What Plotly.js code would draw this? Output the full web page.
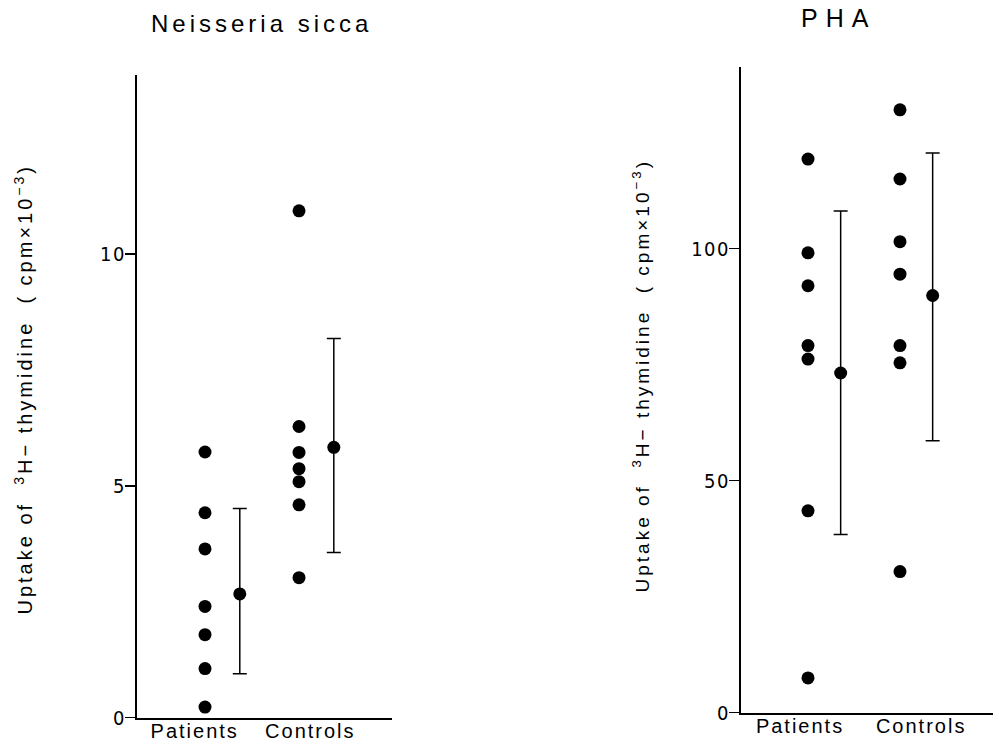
<!DOCTYPE html>
<html>
<head>
<meta charset="utf-8">
<script src="https://cdn.plot.ly/plotly-3.0.1.min.js"></script>
<style>
  html, body { margin: 0; padding: 0; background: #fff; }
  #chart { width: 996px; height: 743px; }
  g.annotation[data-index="0"] text { letter-spacing: 4px; }
  g.annotation[data-index="1"] text { letter-spacing: 8px; }
  g.annotation[data-index="2"] text { letter-spacing: 3px; }
  g.annotation[data-index="3"] text { letter-spacing: 3px; }
  .xtick text, .x2tick text { letter-spacing: 2px; }
  .ytick text, .y2tick text { letter-spacing: 1.5px; font-stretch: condensed; }
</style>
</head>
<body>
<div id="chart"></div>
<script>
// ---- data ----
const groups = ['Patients', 'Controls'];

const nsTitle = 'Neisseria sicca';
const nsPatients = [5.73, 4.42, 3.64, 2.40, 1.79, 1.06, 0.23];
const nsControls = [10.93, 6.28, 5.72, 5.37, 5.09, 4.59, 3.02];
const nsMean = [2.67, 5.83];
const nsSdPlus = [1.84, 2.35];
const nsSdMinus = [1.72, 2.27];
const nsTicks = [0, 5, 10];

const phaTitle = 'PHA';
const phaPatients = [119.3, 99.1, 92.0, 79.1, 76.2, 43.5, 7.5];
const phaControls = [129.9, 115.0, 101.5, 94.5, 79.1, 75.4, 30.4];
const phaMean = [73.2, 89.9];
const phaSdPlus = [34.9, 30.7];
const phaSdMinus = [34.8, 31.3];
const phaTicks = [0, 50, 100];

const yTitle = 'Uptake of  <sup>3</sup>H\u2212 thymidine  ( cpm\u00D710<sup>\u22123</sup>)';

// ---- styling / layout ----
const W = 996, H = 743;
const px = v => v / W;
const py = v => 1 - v / H;
const dotSize = 13;
const black = '#000';
const tickFont = { family: 'DejaVu Sans Condensed, DejaVu Sans, Liberation Sans, sans-serif', size: 20, color: black };
const labelFont = { family: 'Liberation Sans, Arial, sans-serif', size: 20, color: black };

function dots(vals, gi, xa, ya) {
  return { x: vals.map(() => gi + 1), y: vals, xaxis: xa, yaxis: ya, type: 'scatter', mode: 'markers',
           marker: { color: black, size: dotSize }, showlegend: false, hoverinfo: 'y' };
}
function means(m, plus, minus, offset, xa, ya) {
  return { x: m.map((_, i) => i + 1 + offset), y: m, xaxis: xa, yaxis: ya, type: 'scatter', mode: 'markers',
           marker: { color: black, size: dotSize }, showlegend: false,
           error_y: { type: 'data', symmetric: false, array: plus, arrayminus: minus,
                      color: black, thickness: 1.5, width: 7 } };
}

const traces = [
  dots(nsPatients, 0, 'x', 'y'),
  dots(nsControls, 1, 'x', 'y'),
  means(nsMean, nsSdPlus, nsSdMinus, 0.37, 'x', 'y'),
  dots(phaPatients, 0, 'x2', 'y2'),
  dots(phaControls, 1, 'x2', 'y2'),
  means(phaMean, phaSdPlus, phaSdMinus, 0.355, 'x2', 'y2')
];

const axisCommon = { showline: true, linecolor: black, linewidth: 2, showgrid: false, zeroline: false,
                     mirror: false, fixedrange: true };

const layout = {
  width: W, height: H,
  margin: { l: 0, r: 0, t: 0, b: 0 },
  paper_bgcolor: '#fff', plot_bgcolor: '#fff',
  showlegend: false,
  xaxis: Object.assign({}, axisCommon, {
    domain: [px(137), px(392)], range: [0.2766, 2.989], anchor: 'y',
    tickmode: 'array', tickvals: [0.89, 2.12], ticktext: groups, ticks: '',
    tickfont: labelFont, ticklabelstandoff: -6
  }),
  yaxis: Object.assign({}, axisCommon, {
    domain: [1 - 717.7 / H, 1 - 75 / H], range: [0, 13.86], anchor: 'x',
    tickmode: 'array', tickvals: nsTicks, ticks: 'outside', ticklen: 10, tickwidth: 1.5, tickcolor: black,
    tickfont: tickFont, ticklabelstandoff: -5
  }),
  xaxis2: Object.assign({}, axisCommon, {
    domain: [px(741), px(993)], range: [0.2717, 3.011], anchor: 'y2',
    tickmode: 'array', tickvals: [0.913, 2.23], ticktext: groups, ticks: '',
    tickfont: labelFont, ticklabelstandoff: -6
  }),
  yaxis2: Object.assign({}, axisCommon, {
    domain: [1 - 712.7 / H, 1 - 66.7 / H], range: [0, 139.2], anchor: 'x2',
    tickmode: 'array', tickvals: phaTicks, ticks: 'outside', ticklen: 10, tickwidth: 1.5, tickcolor: black,
    tickfont: tickFont, ticklabelstandoff: -5
  }),
  annotations: [
    { text: nsTitle, xref: 'paper', yref: 'paper', x: px(262), y: py(23.5), xanchor: 'center', yanchor: 'middle',
      showarrow: false, font: { family: 'Liberation Sans, Arial, sans-serif', size: 24, color: black } },
    { text: phaTitle, xref: 'paper', yref: 'paper', x: px(839), y: py(17.5), xanchor: 'center', yanchor: 'middle',
      showarrow: false, font: { family: 'Liberation Sans, Arial, sans-serif', size: 25, color: black } },
    { text: yTitle, xref: 'paper', yref: 'paper', x: px(23), y: py(390), xanchor: 'center', yanchor: 'middle',
      textangle: -90, showarrow: false, font: { family: 'Liberation Sans, Arial, sans-serif', size: 20, color: black } },
    { text: yTitle, xref: 'paper', yref: 'paper', x: px(641), y: py(376), xanchor: 'center', yanchor: 'middle',
      textangle: -90, showarrow: false, font: { family: 'Liberation Sans, Arial, sans-serif', size: 19, color: black } }
  ]
};

Plotly.newPlot('chart', traces, layout, { staticPlot: true, displayModeBar: false });
</script>
</body>
</html>
